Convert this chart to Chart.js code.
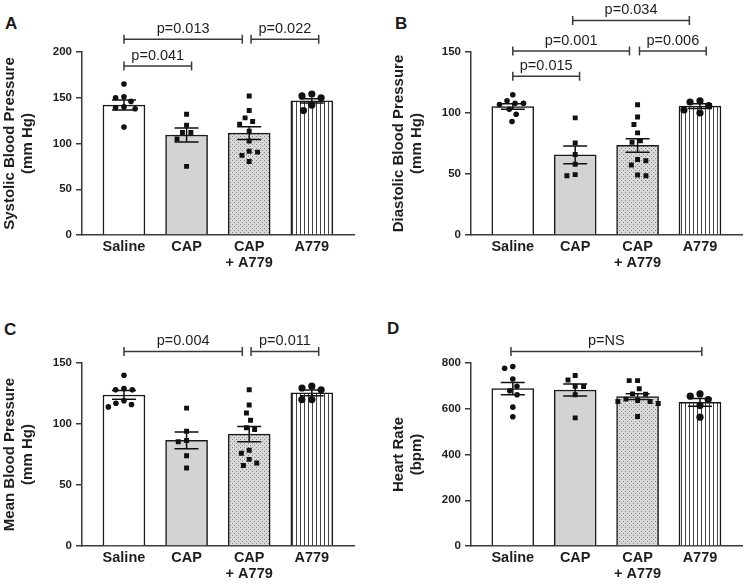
<!DOCTYPE html>
<html><head><meta charset="utf-8">
<script src="https://cdn.jsdelivr.net/npm/chart.js@4.4.1/dist/chart.umd.min.js"></script>
<style>
html,body{margin:0;padding:0;background:#fff;width:746px;height:587px;overflow:hidden;position:relative;}
canvas.panel{position:absolute;}
.lbl{position:absolute;font:bold 17px "Liberation Sans",Arial,sans-serif;line-height:17px;color:#1a1a1a;}
</style></head><body>
<div class="lbl" style="left:5px;top:15px">A</div>
<div class="lbl" style="left:395px;top:15px">B</div>
<div class="lbl" style="left:4px;top:321px">C</div>
<div class="lbl" style="left:387px;top:320px">D</div>
<canvas id="cA" class="panel" width="358" height="276" style="left:0;top:0"></canvas>
<canvas id="cB" class="panel" width="357" height="276" style="left:389px;top:0"></canvas>
<canvas id="cC" class="panel" width="358" height="276" style="left:0;top:311px"></canvas>
<canvas id="cD" class="panel" width="357" height="276" style="left:389px;top:311px"></canvas>
<script>
// ---------- data ----------
const categories = [['Saline'], ['CAP'], ['CAP', '+ A779'], ['A779']];

// Panel A: systolic
const sbpMeans = [142, 109.3, 111.3, 146.6];
const sbpSem = [5.5, 7.6, 6.9, 2.4];
const sbpSaline = [165, 151, 146, 150, 139, 138, 140, 118];
const sbpCap = [132, 120, 112, 112, 105, 75];
const sbpCapA779 = [152, 136, 128, 124, 121, 113.5, 102.6, 91.6, 90.6, 87, 80.4];
const sbpA779 = [152, 150, 154, 142, 136];
const sbpBrackets = [[0, 1.08, 184.7, 'p=0.041'], [0, 1.89, 213.9, 'p=0.013'], [2.03, 3.11, 213.9, 'p=0.022']];

// Panel B: diastolic
const dbpMeans = [105.3, 65.7, 73.4, 105.6];
const dbpSem = [2.2, 7.2, 5.5, 1.9];
const dbpSaline = [115, 108, 108, 107, 110, 103, 99, 93];
const dbpCap = [96, 75.5, 66, 58, 48.5, 49.5];
const dbpCapA779 = [106.7, 96.8, 90.6, 83.7, 76.1, 77.2, 60.8, 61.9, 57.3, 48.5, 49.1];
const dbpA779 = [106, 110, 109, 100, 102.5];
const dbpBrackets = [[0, 1.07, 130.1, 'p=0.015'], [0, 1.87, 150.8, 'p=0.001'], [2.03, 3.10, 150.8, 'p=0.006'], [0.96, 2.83, 175.9, 'p=0.034']];

// Panel C: mean BP
const mbpMeans = [123.8, 86.6, 91.7, 125.5];
const mbpSem = [3.6, 6.9, 6.3, 2.4];
const mbpSaline = [140, 128, 128, 129, 117, 114, 116, 119];
const mbpCap = [113, 94, 85.5, 86.5, 74, 64];
const mbpCapA779 = [128, 115.5, 109, 103, 95.5, 97, 78.5, 76, 71, 68, 66];
const mbpA779 = [128, 131, 129.5, 120, 120];
const mbpBrackets = [[0, 1.89, 159.5, 'p=0.004'], [2.03, 3.11, 159.5, 'p=0.011']];

// Panel D: heart rate
const hrMeans = [688, 682, 653, 628];
const hrSem = [27, 26, 13, 17];
const hrSaline = [777, 785, 730, 698, 679, 661, 607, 565];
const hrCap = [726, 745, 697, 698, 661, 560];
const hrCapA779 = [723, 723, 687, 663, 665, 636, 632, 623, 632, 642, 566];
const hrA779 = [640, 665, 655, 614, 563];
const hrBrackets = [[-0.03, 3.03, 850.6, 'p=NS']];

// ---------- styling ----------
const FONT = '"Liberation Sans", Arial, Helvetica, sans-serif';
const INK = '#1e1e1e';
const AXIS = '#3a3a3a';

function stipplePattern() {
  const c = document.createElement('canvas'); c.width = 4; c.height = 4;
  const g = c.getContext('2d');
  g.fillStyle = '#d8d8d8'; g.fillRect(0, 0, 4, 4);
  g.fillStyle = '#868686'; g.fillRect(0, 0, 1, 1); g.fillRect(2, 2, 1, 1);
  return g.createPattern(c, 'repeat');
}
function stripePattern() {
  const c = document.createElement('canvas'); c.width = 4; c.height = 4;
  const g = c.getContext('2d');
  g.fillStyle = '#ffffff'; g.fillRect(0, 0, 4, 4);
  g.fillStyle = '#444444'; g.fillRect(0, 0, 1, 4);
  return g.createPattern(c, 'repeat');
}
const fills = ['#ffffff', '#d3d3d3', stipplePattern(), stripePattern()];
const markers = [
  {style: 'circle', r: 2.8, gap: 8.4},
  {style: 'rect', r: 3.5, gap: 8.4},
  {style: 'rect', r: 3.5, gap: 8.4},
  {style: 'circle', r: 3.6, gap: 10}
];

const errorBarPlugin = {
  id: 'errorBars',
  afterDatasetDraw(chart, args, opts) {
    if (args.index !== 0 || !opts || !opts.means) return;
    const {ctx, scales: {x, y}} = chart;
    const means = opts.means, sems = opts.sems;
    ctx.save();
    ctx.strokeStyle = '#111'; ctx.lineWidth = 1.5;
    means.forEach((m, i) => {
      const px = x.getPixelForValue(i);
      const yt = y.getPixelForValue(m + sems[i]);
      const yb = y.getPixelForValue(m - sems[i]);
      ctx.beginPath();
      ctx.moveTo(px, yt); ctx.lineTo(px, yb);
      ctx.moveTo(px - 12, yt); ctx.lineTo(px + 12, yt);
      ctx.moveTo(px - 12, yb); ctx.lineTo(px + 12, yb);
      ctx.stroke();
    });
    ctx.restore();
  }
};

const bracketPlugin = {
  id: 'brackets',
  afterDraw(chart, args, opts) {
    if (!opts || !opts.items) return;
    const {ctx, scales: {x, y}} = chart;
    ctx.save();
    ctx.strokeStyle = AXIS; ctx.lineWidth = 1.5;
    ctx.fillStyle = INK;
    ctx.font = '14.5px ' + FONT;
    ctx.textAlign = 'center'; ctx.textBaseline = 'alphabetic';
    opts.items.forEach(([a, b, lvl, txt]) => {
      const x1 = x.getPixelForValue(a), x2 = x.getPixelForValue(b);
      const py = y.getPixelForValue(lvl);
      ctx.beginPath();
      ctx.moveTo(x1, py); ctx.lineTo(x2, py);
      ctx.moveTo(x1, py - 4.5); ctx.lineTo(x1, py + 4.5);
      ctx.moveTo(x2, py - 4.5); ctx.lineTo(x2, py + 4.5);
      ctx.stroke();
      ctx.fillText(txt, (x1 + x2) / 2, py - 6);
    });
    ctx.restore();
  }
};

// beeswarm: place points (highest first) at the smallest horizontal shift that avoids overlap
function swarmOffsets(values, yScale, xUnitPx, D) {
  const order = values.map((v, i) => i).sort((a, b) => values[b] - values[a]);
  const placed = [];
  const offs = new Array(values.length).fill(0);
  let lastSign = 1;
  order.forEach(k => {
    const py = yScale.getPixelForValue(values[k]);
    const cands = [0];
    placed.forEach(p => {
      const dy = Math.abs(p.y - py);
      if (dy < D) { const dx = Math.sqrt(D * D - dy * dy); cands.push(p.x + dx, p.x - dx); }
    });
    const ok = c => placed.every(p => (p.x - c) ** 2 + (p.y - py) ** 2 >= D * D - 0.05);
    const valid = cands.filter(ok);
    valid.sort((a, b) => {
      const d = Math.round(Math.abs(a) * 10) - Math.round(Math.abs(b) * 10);
      if (d !== 0) return d;
      return Math.sign(a) * lastSign - Math.sign(b) * lastSign;
    });
    const xo = valid[0];
    if (Math.abs(xo) > 0.01) lastSign = Math.sign(xo);
    placed.push({x: xo, y: py});
    offs[k] = xo / xUnitPx;
  });
  return offs;
}

function makePanel(id, titleLines, yMax, step, means, sems, groups, brackets) {
  const datasets = [{
    type: 'bar',
    data: means.map((m, i) => ({x: i, y: m})),
    backgroundColor: fills,
    borderColor: '#1a1a1a',
    borderWidth: 1.5,
    barThickness: 42,
    order: 2
  }];
  groups.forEach((vals, i) => {
    datasets.push({
      type: 'scatter',
      data: vals.map(v => ({x: i, y: v})),
      pointStyle: markers[i].style,
      pointRadius: markers[i].r,
      pointHoverRadius: markers[i].r,
      backgroundColor: '#111',
      borderColor: '#111',
      borderWidth: 0,
      order: 1
    });
  });
  const chart = new Chart(document.getElementById(id), {
    type: 'bar',
    data: {datasets},
    options: {
      responsive: false,
      animation: false,
      events: [],
      layout: {padding: {left: 0, right: 1, top: 52, bottom: 0}},
      plugins: {
        legend: {display: false}, tooltip: {enabled: false},
        errorBars: {means: means, sems: sems},
        brackets: {items: brackets}
      },
      scales: {
        x: {
          type: 'linear', min: -0.67, max: 3.68, offset: false,
          grid: {display: false, drawTicks: false, tickLength: 0, offset: false},
          border: {display: true, color: AXIS, width: 1.5},
          ticks: {
            autoSkip: false, maxRotation: 0, padding: 4, color: INK,
            font: {family: FONT, size: 14.5, weight: 'bold', lineHeight: 1.1},
            callback: (v) => categories[v]
          },
          afterBuildTicks: (s) => { s.ticks = categories.map((c, i) => ({value: i})); },
          afterFit: (s) => { s.height = 41; }
        },
        y: {
          type: 'linear', min: 0, max: yMax,
          grid: {drawOnChartArea: false, drawTicks: true, tickLength: 6, color: AXIS, lineWidth: 1.5},
          border: {display: true, color: AXIS, width: 1.5},
          ticks: {stepSize: step, padding: 4, color: INK, font: {family: FONT, size: 11.5, weight: 'bold'}},
          title: {display: true, text: titleLines, color: INK, padding: {top: 1, bottom: 0},
                  font: {family: FONT, size: 15, weight: 'bold', lineHeight: 1.2}},
          afterFit: (s) => { s.width = 82; }
        }
      }
    },
    plugins: [errorBarPlugin, bracketPlugin]
  });
  const xs = chart.scales.x, ys = chart.scales.y;
  const unit = xs.getPixelForValue(1) - xs.getPixelForValue(0);
  groups.forEach((vals, i) => {
    const offs = swarmOffsets(vals, ys, unit, markers[i].gap);
    chart.data.datasets[i + 1].data = vals.map((v, j) => ({x: i + offs[j], y: v}));
  });
  chart.update('none');
  return chart;
}

makePanel('cA', ['Systolic Blood Pressure', '(mm Hg)'], 200, 50, sbpMeans, sbpSem,
  [sbpSaline, sbpCap, sbpCapA779, sbpA779], sbpBrackets);
makePanel('cB', ['Diastolic Blood Pressure', '(mm Hg)'], 150, 50, dbpMeans, dbpSem,
  [dbpSaline, dbpCap, dbpCapA779, dbpA779], dbpBrackets);
makePanel('cC', ['Mean Blood Pressure', '(mm Hg)'], 150, 50, mbpMeans, mbpSem,
  [mbpSaline, mbpCap, mbpCapA779, mbpA779], mbpBrackets);
makePanel('cD', ['Heart Rate', '(bpm)'], 800, 200, hrMeans, hrSem,
  [hrSaline, hrCap, hrCapA779, hrA779], hrBrackets);
</script>
</body></html>
